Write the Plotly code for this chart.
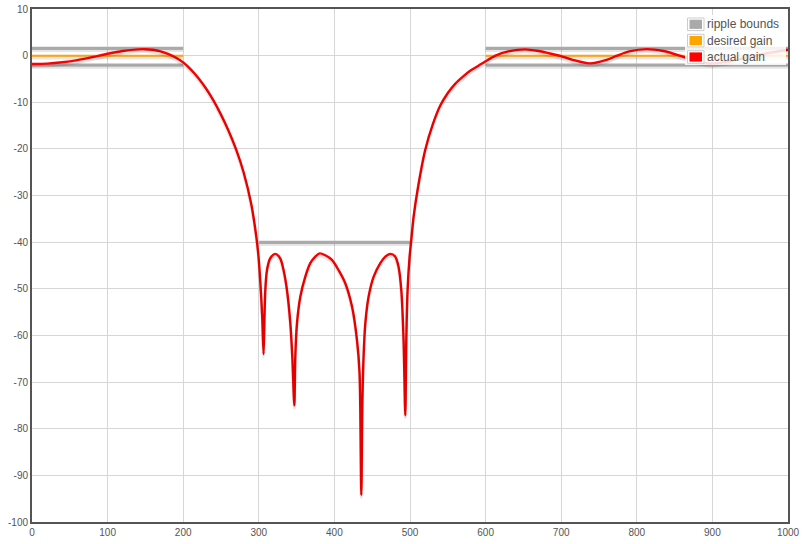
import plotly.graph_objects as go

# ---------------- data ----------------
freq = [0, 20, 40, 60, 80, 100, 120, 140, 150, 160, 170, 180, 190, 200,
        210, 220, 230, 240, 250, 260, 270, 280, 290, 295, 299, 302, 304.5, 306.3,
        307.3, 308.6, 310.8, 315, 321.8, 328.4, 332.8, 337.3, 341.7, 344.3, 347,
        348.3, 350.5, 354.9, 361.5, 368.1, 374.7, 380.4, 388, 396.8, 405.6, 414.4,
        423.3, 429.9, 433.3, 435.6, 436.9, 438.6, 440.9, 445.2, 451.9, 460.7, 467.3,
        474, 480.6, 484.9, 488.5, 491.5, 493.8, 495.1, 496.8, 499.5, 501.7, 504.8,
        510, 520, 530, 540, 550, 560, 570, 580, 590, 600, 613, 630, 652, 670, 685, 699,
        715, 738, 760, 774, 790, 813, 835, 857, 875, 898, 920, 941, 955, 972, 990, 1000]
actual_gain = [-1.80, -1.72, -1.42, -0.95, -0.30, 0.40, 1.00, 1.35, 1.38, 1.25, 0.92, 0.38, -0.40, -1.45,
               -2.95, -4.8, -7.0, -9.6, -12.65, -16.1, -20.1, -25.05, -31.8, -36.8, -42.0, -48.5, -56.0, -64,
               -57.4, -50.3, -46.0, -43.5, -42.5, -43.5, -46.0, -50.3, -57.4, -64.5, -75,
               -64.5, -57.4, -51.7, -47.4, -44.5, -43.1, -42.4, -42.8, -43.8, -46, -48.8,
               -53.8, -61, -68.1, -94.2, -75.3, -64.5, -57.4, -51.7, -47.4, -44.5, -43.1,
               -42.5, -43.1, -45.3, -50.3, -61, -77.1, -61, -50.3, -43.1, -39.5, -34.5,
               -28.8, -20.3, -14.8, -10.7, -8.0, -6.0, -4.5, -3.2, -2.2, -1.2, 0.0, 0.9, 1.35, 1.0, 0.45, -0.05,
               -0.9, -1.65, -0.9, 0.0, 0.9, 1.4, 1.0, 0.0, -1.0, -1.7, -1.3, -0.6, 0.0, 0.5, 1.0, 1.25]

passband1 = [0, 200]
stopband = [300, 500]
passband2 = [600, 1000]
ripple_upper = 1.6
ripple_lower = -2.0
stop_bound = -40
desired_pass = 0

x_ticks = [0, 100, 200, 300, 400, 500, 600, 700, 800, 900, 1000]
y_ticks = [10, 0, -10, -20, -30, -40, -50, -60, -70, -80, -90, -100]
legend_labels = ["ripple bounds", "desired gain", "actual gain"]

# ---------------- build series ----------------
bx, by = [], []
for band in (passband1, passband2):
    bx += [band[0], band[1], None, band[0], band[1], None]
    by += [ripple_upper, ripple_upper, None, ripple_lower, ripple_lower, None]
bx += [stopband[0], stopband[1]]
by += [stop_bound, stop_bound]

dx = [passband1[0], passband1[1], None, passband2[0], passband2[1]]
dy = [desired_pass, desired_pass, None, desired_pass, desired_pass]

GRAY = "#aaaaaa"
ORANGE = "#ffa500"
RED = "#ff0000"
TXT = "#545454"

# plot area in pixels
W, H = 805, 544
L, R, T, B = 32, 788, 9, 522
KY = (B - T) / 110.0  # px per dB
SH = 2.4 / KY          # shadow offset in dB units

fig = go.Figure()

series = [(bx, by, GRAY, 3), (dx, dy, ORANGE, 2), (freq, actual_gain, RED, 2.4)]
for xs, ys, col, lw in series:
    shape = "spline" if xs is freq else "linear"
    fig.add_trace(go.Scatter(x=xs, y=ys, mode="lines", yaxis="y2", showlegend=False,
                             hoverinfo="skip",
                             line=dict(color="rgba(0,0,0,0.10)", width=3, shape=shape, smoothing=0.8)))
    fig.add_trace(go.Scatter(x=xs, y=ys, mode="lines", showlegend=False,
                             line=dict(color=col, width=lw, shape=shape, smoothing=0.8)))

fig.update_layout(
    width=W, height=H,
    margin=dict(l=L, r=W - R, t=T, b=H - B, autoexpand=False),
    paper_bgcolor="white", plot_bgcolor="white",
    font=dict(family="Liberation Sans, Arial, sans-serif", color=TXT, size=10),
    xaxis=dict(range=[0, 1000], tickvals=x_ticks, ticktext=[str(v) for v in x_ticks],
               showgrid=True, gridcolor="#d6d6d6", gridwidth=1, zeroline=False,
               showline=True, mirror=True, linecolor=TXT, linewidth=2, automargin=False,
               ticks="", tickfont=dict(size=10, color=TXT)),
    yaxis=dict(range=[-100, 10], tickvals=y_ticks, ticktext=[str(v) for v in y_ticks],
               showgrid=True, gridcolor="#d6d6d6", gridwidth=1, zeroline=False,
               showline=True, mirror=True, linecolor=TXT, linewidth=2, automargin=False,
               ticks="", tickfont=dict(size=10, color=TXT)),
    yaxis2=dict(range=[-100 + SH, 10 + SH], overlaying="y", visible=False, automargin=False),
    showlegend=False,
)

# ---------------- manual Flot-style legend ----------------
def px(xp):
    return (xp - L) / (R - L)

def py(yp):
    return (B - yp) / (B - T)

shapes = [dict(type="rect", xref="paper", yref="paper",
               x0=px(685), x1=px(786), y0=py(15), y1=py(65),
               fillcolor="rgba(255,255,255,0.85)", line=dict(width=0), layer="above")]
annotations = []
centers = [24.3, 40.6, 57.0]
for lab, col, cy in zip(legend_labels, [GRAY, ORANGE, RED], centers):
    shapes.append(dict(type="rect", xref="paper", yref="paper",
                       x0=px(687.5), x1=px(704), y0=py(cy - 6.3), y1=py(cy + 6.3),
                       fillcolor="white", line=dict(color="#cccccc", width=1), layer="above"))
    shapes.append(dict(type="rect", xref="paper", yref="paper",
                       x0=px(689.5), x1=px(702), y0=py(cy - 4.6), y1=py(cy + 4.6),
                       fillcolor=col, line=dict(width=0), layer="above"))
    annotations.append(dict(xref="paper", yref="paper", x=px(705), y=py(cy),
                            xanchor="left", yanchor="middle", showarrow=False,
                            text=lab, font=dict(size=12, color=TXT,
                                                family="Liberation Sans, Arial, sans-serif")))
fig.update_layout(shapes=shapes, annotations=annotations)

fig.write_html("out.html")
